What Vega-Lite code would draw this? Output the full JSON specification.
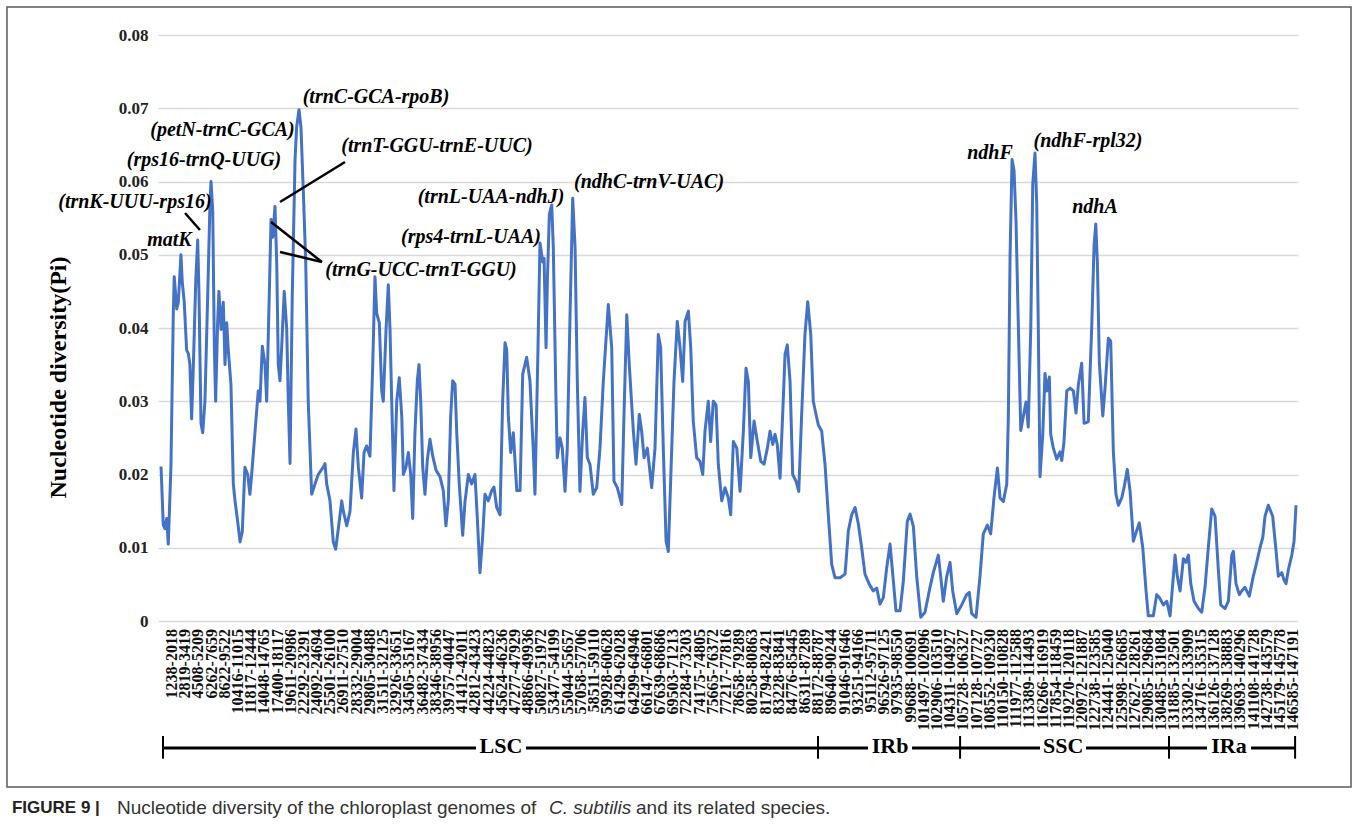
{
  "$schema": "https://vega.github.io/schema/vega-lite/v6.json",
  "autosize": {"type": "none"},
  "width": 1140,
  "height": 586,
  "padding": {"left": 158, "top": 35, "right": 60, "bottom": 210},
  "background": "white",
  "config": {"view": {"stroke": null}, "font": "Liberation Serif"},
  "datasets": {
    "pi": [
      {"w":-0.83,"pi":0.0211},{"w":-0.66,"pi":0.0131},{"w":-0.53,"pi":0.0126},{"w":-0.40,"pi":0.014},{"w":-0.28,"pi":0.0105},{"w":-0.08,"pi":0.021},{"w":0.10,"pi":0.042},{"w":0.17,"pi":0.047},{"w":0.36,"pi":0.0426},{"w":0.48,"pi":0.0435},{"w":0.68,"pi":0.050},{"w":0.78,"pi":0.0463},{"w":0.93,"pi":0.0435},{"w":1.11,"pi":0.037},{"w":1.24,"pi":0.0365},{"w":1.36,"pi":0.035},{"w":1.49,"pi":0.0276},{"w":1.61,"pi":0.0342},{"w":1.80,"pi":0.0463},{"w":1.95,"pi":0.052},{"w":2.05,"pi":0.0445},{"w":2.20,"pi":0.027},{"w":2.33,"pi":0.0257},{"w":2.50,"pi":0.030},{"w":2.71,"pi":0.0445},{"w":2.88,"pi":0.057},{"w":2.96,"pi":0.060},{"w":3.09,"pi":0.056},{"w":3.21,"pi":0.0375},{"w":3.31,"pi":0.030},{"w":3.46,"pi":0.0407},{"w":3.56,"pi":0.045},{"w":3.72,"pi":0.0398},{"w":3.89,"pi":0.0435},{"w":4.02,"pi":0.035},{"w":4.15,"pi":0.0407},{"w":4.27,"pi":0.037},{"w":4.47,"pi":0.0323},{"w":4.65,"pi":0.0187},{"w":4.78,"pi":0.0164},{"w":4.98,"pi":0.0136},{"w":5.16,"pi":0.0108},{"w":5.33,"pi":0.0122},{"w":5.53,"pi":0.021},{"w":5.74,"pi":0.020},{"w":5.91,"pi":0.0173},{"w":6.04,"pi":0.020},{"w":6.29,"pi":0.0257},{"w":6.54,"pi":0.0314},{"w":6.67,"pi":0.030},{"w":6.85,"pi":0.0375},{"w":7.05,"pi":0.035},{"w":7.18,"pi":0.030},{"w":7.35,"pi":0.0426},{"w":7.51,"pi":0.0548},{"w":7.64,"pi":0.0524},{"w":7.81,"pi":0.0566},{"w":7.94,"pi":0.049},{"w":8.06,"pi":0.035},{"w":8.19,"pi":0.0328},{"w":8.32,"pi":0.0375},{"w":8.51,"pi":0.045},{"w":8.70,"pi":0.0398},{"w":8.82,"pi":0.030},{"w":8.95,"pi":0.0215},{"w":9.12,"pi":0.0445},{"w":9.33,"pi":0.063},{"w":9.45,"pi":0.0674},{"w":9.63,"pi":0.0698},{"w":9.78,"pi":0.0674},{"w":9.96,"pi":0.0585},{"w":10.14,"pi":0.049},{"w":10.33,"pi":0.030},{"w":10.59,"pi":0.0173},{"w":10.84,"pi":0.0187},{"w":11.09,"pi":0.020},{"w":11.47,"pi":0.021},{"w":11.60,"pi":0.0215},{"w":11.73,"pi":0.0187},{"w":11.98,"pi":0.0164},{"w":12.23,"pi":0.0108},{"w":12.41,"pi":0.0098},{"w":12.61,"pi":0.0126},{"w":12.87,"pi":0.0164},{"w":12.99,"pi":0.015},{"w":13.25,"pi":0.013},{"w":13.50,"pi":0.015},{"w":13.75,"pi":0.023},{"w":13.95,"pi":0.0262},{"w":14.13,"pi":0.021},{"w":14.38,"pi":0.0168},{"w":14.56,"pi":0.023},{"w":14.76,"pi":0.0239},{"w":15.01,"pi":0.0225},{"w":15.22,"pi":0.035},{"w":15.39,"pi":0.047},{"w":15.52,"pi":0.042},{"w":15.72,"pi":0.0407},{"w":15.90,"pi":0.0314},{"w":16.02,"pi":0.030},{"w":16.23,"pi":0.0398},{"w":16.40,"pi":0.0459},{"w":16.53,"pi":0.0398},{"w":16.66,"pi":0.030},{"w":16.83,"pi":0.0178},{"w":17.04,"pi":0.030},{"w":17.23,"pi":0.0332},{"w":17.42,"pi":0.028},{"w":17.54,"pi":0.020},{"w":17.74,"pi":0.021},{"w":17.92,"pi":0.023},{"w":18.10,"pi":0.020},{"w":18.25,"pi":0.014},{"w":18.42,"pi":0.0257},{"w":18.60,"pi":0.0328},{"w":18.73,"pi":0.035},{"w":18.86,"pi":0.030},{"w":19.01,"pi":0.021},{"w":19.18,"pi":0.0173},{"w":19.36,"pi":0.022},{"w":19.56,"pi":0.0248},{"w":19.77,"pi":0.0225},{"w":20.02,"pi":0.0206},{"w":20.32,"pi":0.0197},{"w":20.57,"pi":0.0178},{"w":20.77,"pi":0.013},{"w":20.95,"pi":0.0164},{"w":21.13,"pi":0.028},{"w":21.28,"pi":0.0328},{"w":21.46,"pi":0.0323},{"w":21.59,"pi":0.0257},{"w":21.78,"pi":0.0187},{"w":22.04,"pi":0.0117},{"w":22.22,"pi":0.0164},{"w":22.47,"pi":0.020},{"w":22.72,"pi":0.0187},{"w":22.97,"pi":0.020},{"w":23.15,"pi":0.014},{"w":23.35,"pi":0.0066},{"w":23.56,"pi":0.0117},{"w":23.73,"pi":0.0173},{"w":23.98,"pi":0.0164},{"w":24.24,"pi":0.0178},{"w":24.41,"pi":0.0183},{"w":24.62,"pi":0.0155},{"w":24.87,"pi":0.0145},{"w":25.07,"pi":0.030},{"w":25.25,"pi":0.038},{"w":25.38,"pi":0.037},{"w":25.50,"pi":0.028},{"w":25.68,"pi":0.023},{"w":25.88,"pi":0.0257},{"w":26.14,"pi":0.0178},{"w":26.39,"pi":0.0178},{"w":26.59,"pi":0.0337},{"w":26.76,"pi":0.035},{"w":26.89,"pi":0.036},{"w":27.14,"pi":0.0328},{"w":27.39,"pi":0.0234},{"w":27.52,"pi":0.0173},{"w":27.75,"pi":0.0373},{"w":27.90,"pi":0.0516},{"w":28.11,"pi":0.049},{"w":28.21,"pi":0.0495},{"w":28.36,"pi":0.0373},{"w":28.46,"pi":0.0464},{"w":28.61,"pi":0.0555},{"w":28.79,"pi":0.0568},{"w":28.91,"pi":0.051},{"w":29.11,"pi":0.0305},{"w":29.21,"pi":0.0223},{"w":29.42,"pi":0.025},{"w":29.59,"pi":0.0236},{"w":29.80,"pi":0.0177},{"w":29.97,"pi":0.0236},{"w":30.18,"pi":0.0418},{"w":30.38,"pi":0.0577},{"w":30.56,"pi":0.051},{"w":30.73,"pi":0.0327},{"w":30.93,"pi":0.0177},{"w":31.14,"pi":0.0259},{"w":31.31,"pi":0.0305},{"w":31.49,"pi":0.0223},{"w":31.69,"pi":0.0214},{"w":31.94,"pi":0.0173},{"w":32.20,"pi":0.0182},{"w":32.45,"pi":0.0236},{"w":32.70,"pi":0.0327},{"w":33.08,"pi":0.0432},{"w":33.34,"pi":0.0373},{"w":33.51,"pi":0.0191},{"w":33.76,"pi":0.0182},{"w":34.10,"pi":0.0159},{"w":34.27,"pi":0.0282},{"w":34.48,"pi":0.0418},{"w":34.67,"pi":0.035},{"w":34.98,"pi":0.0259},{"w":35.18,"pi":0.0214},{"w":35.43,"pi":0.0282},{"w":35.61,"pi":0.0259},{"w":35.79,"pi":0.0223},{"w":36.04,"pi":0.0236},{"w":36.37,"pi":0.0182},{"w":36.62,"pi":0.0236},{"w":36.87,"pi":0.0391},{"w":37.05,"pi":0.0373},{"w":37.25,"pi":0.0236},{"w":37.46,"pi":0.0109},{"w":37.63,"pi":0.0095},{"w":37.89,"pi":0.0236},{"w":38.06,"pi":0.0327},{"w":38.31,"pi":0.0409},{"w":38.52,"pi":0.0373},{"w":38.72,"pi":0.0327},{"w":38.90,"pi":0.0409},{"w":39.15,"pi":0.0423},{"w":39.33,"pi":0.0373},{"w":39.52,"pi":0.0273},{"w":39.78,"pi":0.0223},{"w":40.03,"pi":0.0218},{"w":40.24,"pi":0.020},{"w":40.41,"pi":0.0259},{"w":40.66,"pi":0.030},{"w":40.84,"pi":0.0245},{"w":41.04,"pi":0.030},{"w":41.25,"pi":0.0295},{"w":41.42,"pi":0.0214},{"w":41.68,"pi":0.0164},{"w":41.93,"pi":0.0182},{"w":42.18,"pi":0.0168},{"w":42.36,"pi":0.0145},{"w":42.56,"pi":0.0245},{"w":42.82,"pi":0.0236},{"w":43.07,"pi":0.0177},{"w":43.32,"pi":0.0259},{"w":43.52,"pi":0.0345},{"w":43.70,"pi":0.0327},{"w":43.88,"pi":0.0223},{"w":44.13,"pi":0.0273},{"w":44.38,"pi":0.0245},{"w":44.64,"pi":0.0218},{"w":44.89,"pi":0.0214},{"w":45.14,"pi":0.0236},{"w":45.34,"pi":0.0259},{"w":45.55,"pi":0.0241},{"w":45.72,"pi":0.0255},{"w":45.89,"pi":0.0241},{"w":46.10,"pi":0.0195},{"w":46.30,"pi":0.0282},{"w":46.48,"pi":0.0364},{"w":46.65,"pi":0.0377},{"w":46.86,"pi":0.0327},{"w":47.06,"pi":0.020},{"w":47.31,"pi":0.0191},{"w":47.52,"pi":0.0177},{"w":47.74,"pi":0.0282},{"w":47.99,"pi":0.0391},{"w":48.20,"pi":0.0436},{"w":48.43,"pi":0.0391},{"w":48.62,"pi":0.030},{"w":48.83,"pi":0.0282},{"w":49.00,"pi":0.0268},{"w":49.26,"pi":0.0259},{"w":49.51,"pi":0.0214},{"w":49.76,"pi":0.0145},{"w":50.02,"pi":0.0077},{"w":50.27,"pi":0.0059},{"w":50.65,"pi":0.0059},{"w":51.03,"pi":0.0064},{"w":51.28,"pi":0.0123},{"w":51.53,"pi":0.0145},{"w":51.79,"pi":0.0155},{"w":52.04,"pi":0.0132},{"w":52.29,"pi":0.010},{"w":52.54,"pi":0.0064},{"w":52.87,"pi":0.005},{"w":53.17,"pi":0.0041},{"w":53.43,"pi":0.0045},{"w":53.68,"pi":0.0023},{"w":53.93,"pi":0.0032},{"w":54.19,"pi":0.0073},{"w":54.44,"pi":0.0105},{"w":54.69,"pi":0.0055},{"w":54.89,"pi":0.0014},{"w":55.20,"pi":0.0014},{"w":55.45,"pi":0.0055},{"w":55.75,"pi":0.0136},{"w":55.96,"pi":0.0146},{"w":56.21,"pi":0.0129},{"w":56.46,"pi":0.0061},{"w":56.77,"pi":0.0005},{"w":57.09,"pi":0.0012},{"w":57.47,"pi":0.0046},{"w":57.72,"pi":0.0066},{"w":58.10,"pi":0.009},{"w":58.28,"pi":0.0061},{"w":58.48,"pi":0.0027},{"w":58.74,"pi":0.0061},{"w":58.99,"pi":0.008},{"w":59.19,"pi":0.0041},{"w":59.50,"pi":0.001},{"w":59.87,"pi":0.0022},{"w":60.25,"pi":0.0036},{"w":60.45,"pi":0.0039},{"w":60.63,"pi":0.001},{"w":60.96,"pi":0.0005},{"w":61.26,"pi":0.0061},{"w":61.51,"pi":0.0119},{"w":61.82,"pi":0.0131},{"w":62.07,"pi":0.0119},{"w":62.32,"pi":0.0168},{"w":62.58,"pi":0.0209},{"w":62.78,"pi":0.0168},{"w":63.03,"pi":0.0163},{"w":63.29,"pi":0.0187},{"w":63.41,"pi":0.028},{"w":63.54,"pi":0.0498},{"w":63.69,"pi":0.063},{"w":63.84,"pi":0.0615},{"w":63.99,"pi":0.0547},{"w":64.17,"pi":0.0401},{"w":64.35,"pi":0.026},{"w":64.55,"pi":0.028},{"w":64.75,"pi":0.0299},{"w":64.92,"pi":0.0265},{"w":65.11,"pi":0.0401},{"w":65.26,"pi":0.0596},{"w":65.43,"pi":0.0639},{"w":65.56,"pi":0.0571},{"w":65.68,"pi":0.0401},{"w":65.81,"pi":0.0197},{"w":66.02,"pi":0.0255},{"w":66.19,"pi":0.0338},{"w":66.32,"pi":0.0314},{"w":66.52,"pi":0.0333},{"w":66.62,"pi":0.0255},{"w":66.82,"pi":0.0236},{"w":67.08,"pi":0.0221},{"w":67.33,"pi":0.0231},{"w":67.46,"pi":0.0219},{"w":67.63,"pi":0.0245},{"w":67.84,"pi":0.0314},{"w":68.09,"pi":0.0318},{"w":68.34,"pi":0.0314},{"w":68.54,"pi":0.0284},{"w":68.72,"pi":0.0323},{"w":68.97,"pi":0.0352},{"w":69.15,"pi":0.027},{"w":69.47,"pi":0.0272},{"w":69.73,"pi":0.0401},{"w":69.91,"pi":0.0513},{"w":70.04,"pi":0.0542},{"w":70.16,"pi":0.0489},{"w":70.31,"pi":0.0352},{"w":70.57,"pi":0.028},{"w":70.74,"pi":0.0318},{"w":70.99,"pi":0.0386},{"w":71.17,"pi":0.0382},{"w":71.37,"pi":0.0231},{"w":71.57,"pi":0.0173},{"w":71.75,"pi":0.0158},{"w":72.01,"pi":0.0168},{"w":72.18,"pi":0.0182},{"w":72.43,"pi":0.0207},{"w":72.64,"pi":0.0177},{"w":72.89,"pi":0.0109},{"w":73.15,"pi":0.0124},{"w":73.34,"pi":0.0134},{"w":73.60,"pi":0.010},{"w":73.85,"pi":0.0041},{"w":74.02,"pi":0.0007},{"w":74.40,"pi":0.0007},{"w":74.66,"pi":0.0036},{"w":74.86,"pi":0.0032},{"w":75.16,"pi":0.0022},{"w":75.42,"pi":0.0027},{"w":75.67,"pi":0.0007},{"w":75.92,"pi":0.0061},{"w":76.05,"pi":0.009},{"w":76.22,"pi":0.0061},{"w":76.43,"pi":0.0041},{"w":76.68,"pi":0.0085},{"w":76.88,"pi":0.008},{"w":77.06,"pi":0.009},{"w":77.24,"pi":0.0051},{"w":77.49,"pi":0.0027},{"w":77.82,"pi":0.0017},{"w":78.07,"pi":0.0012},{"w":78.32,"pi":0.0046},{"w":78.57,"pi":0.010},{"w":78.83,"pi":0.0153},{"w":79.08,"pi":0.0143},{"w":79.33,"pi":0.007},{"w":79.51,"pi":0.0022},{"w":79.84,"pi":0.0017},{"w":80.09,"pi":0.0027},{"w":80.35,"pi":0.009},{"w":80.47,"pi":0.0095},{"w":80.67,"pi":0.0051},{"w":80.92,"pi":0.0036},{"w":81.10,"pi":0.0041},{"w":81.35,"pi":0.0046},{"w":81.68,"pi":0.0034},{"w":81.98,"pi":0.0061},{"w":82.24,"pi":0.008},{"w":82.49,"pi":0.010},{"w":82.70,"pi":0.0114},{"w":82.87,"pi":0.0143},{"w":83.12,"pi":0.0158},{"w":83.45,"pi":0.0143},{"w":83.71,"pi":0.0095},{"w":83.88,"pi":0.0061},{"w":84.14,"pi":0.0066},{"w":84.31,"pi":0.0056},{"w":84.46,"pi":0.0051},{"w":84.64,"pi":0.007},{"w":84.90,"pi":0.009},{"w":85.07,"pi":0.0109},{"w":85.22,"pi":0.0158}
    ],
    "windows": [
      {"w":0,"label":"1238-2018"},{"w":1,"label":"2819-3419"},{"w":2,"label":"4508-5209"},{"w":3,"label":"6262-7659"},{"w":4,"label":"8622-9522"},{"w":5,"label":"10416-11015"},{"w":6,"label":"11817-12444"},{"w":7,"label":"14048-14765"},{"w":8,"label":"17400-18117"},{"w":9,"label":"19611-20986"},{"w":10,"label":"22292-23291"},{"w":11,"label":"24092-24694"},{"w":12,"label":"25501-26100"},{"w":13,"label":"26911-27510"},{"w":14,"label":"28332-29004"},{"w":15,"label":"29805-30488"},{"w":16,"label":"31511-32125"},{"w":17,"label":"32926-33651"},{"w":18,"label":"34505-35167"},{"w":19,"label":"36482-37434"},{"w":20,"label":"38346-38956"},{"w":21,"label":"39757-40447"},{"w":22,"label":"41412-42011"},{"w":23,"label":"42812-43423"},{"w":24,"label":"44224-44823"},{"w":25,"label":"45624-46236"},{"w":26,"label":"47277-47929"},{"w":27,"label":"48866-49936"},{"w":28,"label":"50827-51972"},{"w":29,"label":"53477-54199"},{"w":30,"label":"55044-55657"},{"w":31,"label":"57058-57706"},{"w":32,"label":"58511-59110"},{"w":33,"label":"59928-60628"},{"w":34,"label":"61429-62028"},{"w":35,"label":"64299-64946"},{"w":36,"label":"66147-66801"},{"w":37,"label":"67639-68686"},{"w":38,"label":"69503-71213"},{"w":39,"label":"72284-73203"},{"w":40,"label":"74175-74805"},{"w":41,"label":"75665-76372"},{"w":42,"label":"77217-77816"},{"w":43,"label":"78658-79289"},{"w":44,"label":"80258-80863"},{"w":45,"label":"81794-82421"},{"w":46,"label":"83228-83841"},{"w":47,"label":"84776-85445"},{"w":48,"label":"86311-87289"},{"w":49,"label":"88172-88787"},{"w":50,"label":"89640-90244"},{"w":51,"label":"91046-91646"},{"w":52,"label":"93251-94166"},{"w":53,"label":"95112-95711"},{"w":54,"label":"96526-97125"},{"w":55,"label":"97935-98550"},{"w":56,"label":"99688-100691"},{"w":57,"label":"101497-102096"},{"w":58,"label":"102906-103510"},{"w":59,"label":"104311-104927"},{"w":60,"label":"105728-106327"},{"w":61,"label":"107128-107727"},{"w":62,"label":"108552-109230"},{"w":63,"label":"110150-110828"},{"w":64,"label":"111977-112588"},{"w":65,"label":"113389-114493"},{"w":66,"label":"116266-116919"},{"w":67,"label":"117854-118459"},{"w":68,"label":"119270-120118"},{"w":69,"label":"120972-121887"},{"w":70,"label":"122738-123585"},{"w":71,"label":"124441-125040"},{"w":72,"label":"125998-126685"},{"w":73,"label":"127627-128261"},{"w":74,"label":"129085-129684"},{"w":75,"label":"130485-131084"},{"w":76,"label":"131885-132501"},{"w":77,"label":"133302-133909"},{"w":78,"label":"134716-135315"},{"w":79,"label":"136126-137128"},{"w":80,"label":"138269-138883"},{"w":81,"label":"139693-140296"},{"w":82,"label":"141108-141728"},{"w":83,"label":"142738-143579"},{"w":84,"label":"145179-145778"},{"w":85,"label":"146585-147191"}
    ],
    "regionLines": [
      {"w":-0.68,"w2":23.05},{"w":26.84,"w2":48.98},
      {"w":48.98,"w2":52.77},{"w":56.11,"w2":59.75},
      {"w":59.75,"w2":65.81},{"w":69.30,"w2":75.59},
      {"w":75.59,"w2":78.47},{"w":81.81,"w2":85.15}
    ],
    "regionTicks": [{"w":-0.68},{"w":48.98},{"w":59.75},{"w":75.59},{"w":85.15}],
    "regionNames": [
      {"w":24.94,"name":"LSC"},{"w":54.44,"name":"IRb"},{"w":67.56,"name":"SSC"},{"w":80.14,"name":"IRa"}
    ],
    "notes": [
      {"w":15.47,"pi":0.07154,"text":"(trnC-GCA-rpoB)"},
      {"w":3.83,"pi":0.06703,"text":"(petN-trnC-GCA)"},
      {"w":2.43,"pi":0.06294,"text":"(rps16-trnQ-UUG)"},
      {"w":-2.81,"pi":0.0572,"text":"(trnK-UUU-rps16)"},
      {"w":-0.19,"pi":0.05201,"text":"matK"},
      {"w":20.09,"pi":0.06485,"text":"(trnT-GGU-trnE-UUC)"},
      {"w":18.88,"pi":0.04792,"text":"(trnG-UCC-trnT-GGU)"},
      {"w":24.19,"pi":0.05788,"text":"(trnL-UAA-ndhJ)"},
      {"w":22.67,"pi":0.05242,"text":"(rps4-trnL-UAA)"},
      {"w":36.17,"pi":0.05993,"text":"(ndhC-trnV-UAC)"},
      {"w":62.02,"pi":0.06389,"text":"ndhF"},
      {"w":69.45,"pi":0.06553,"text":"(ndhF-rpl32)"},
      {"w":69.98,"pi":0.05652,"text":"ndhA"}
    ],
    "leaders": [
      {"w":0.99,"pi":0.0557,"w2":2.12,"pi2":0.05338},
      {"w":13.12,"pi":0.06266,"w2":8.19,"pi2":0.0572},
      {"w":11.37,"pi":0.04901,"w2":7.51,"pi2":0.05447},
      {"w":11.37,"pi":0.04901,"w2":8.19,"pi2":0.05038}
    ],
    "frame": [{"w":-12.51,"w2":89.39,"pi":0.08382,"pi2":-0.02266}],
    "capBold": [{"w":-12.13,"pi":-0.02553,"text":"FIGURE 9 |"}],
    "capPlain": [
      {"w":-4.17,"pi":-0.02553,"text":"Nucleotide diversity of the chloroplast genomes of"},
      {"w":35.18,"pi":-0.02553,"text":"and its related species."}
    ],
    "capItalic": [{"w":28.58,"pi":-0.02553,"text":"C. subtilis"}]
  },
  "layer": [
    {
      "data": {"name": "frame"},
      "mark": {"type": "rect", "fillOpacity": 0, "stroke": "#5a5a5a", "strokeWidth": 1.5},
      "encoding": {
        "x": {"field": "w", "type": "quantitative", "scale": {"domain": [-1.06, 85.37], "nice": false, "zero": false}, "axis": null},
        "x2": {"field": "w2"},
        "y": {"field": "pi", "type": "quantitative", "scale": {"domain": [0, 0.08], "nice": false, "zero": false},
          "axis": {"values": [0,0.01,0.02,0.03,0.04,0.05,0.06,0.07,0.08],
            "labelExpr": "datum.value == 0 ? '0' : format(datum.value, '.2f')",
            "grid": true, "gridColor": "#d9d9d9", "gridWidth": 1.3, "ticks": false, "domain": false,
            "labelFont": "Liberation Serif", "labelFontWeight": "bold", "labelFontSize": 17, "labelColor": "#222222", "labelPadding": 10,
            "title": "Nucleotide diversity(Pi)", "titleFont": "Liberation Serif", "titleFontSize": 24, "titleFontWeight": "bold", "titleColor": "#000000",
            "titleX": -100, "titleY": 342, "titleAngle": -90, "titleBaseline": "middle", "titleAlign": "center"}},
        "y2": {"field": "pi2"}
      }
    },
    {
      "data": {"name": "pi"},
      "mark": {"type": "line", "color": "#4472C4", "strokeWidth": 3, "strokeJoin": "round"},
      "encoding": {
        "x": {"field": "w", "type": "quantitative"},
        "y": {"field": "pi", "type": "quantitative"}
      }
    },
    {
      "data": {"name": "windows"},
      "mark": {"type": "text", "angle": 270, "align": "right", "baseline": "middle", "font": "Liberation Serif", "fontWeight": "bold", "fontSize": 16, "color": "#111111"},
      "encoding": {
        "x": {"field": "w", "type": "quantitative"},
        "y": {"datum": -0.0011, "type": "quantitative"},
        "text": {"field": "label"}
      }
    },
    {
      "data": {"name": "regionLines"},
      "mark": {"type": "rule", "strokeWidth": 3, "color": "#000000"},
      "encoding": {
        "x": {"field": "w", "type": "quantitative"},
        "x2": {"field": "w2"},
        "y": {"datum": -0.01734, "type": "quantitative"}
      }
    },
    {
      "data": {"name": "regionTicks"},
      "mark": {"type": "rule", "strokeWidth": 2, "color": "#000000"},
      "encoding": {
        "x": {"field": "w", "type": "quantitative"},
        "y": {"datum": -0.0157, "type": "quantitative"},
        "y2": {"datum": -0.0188}
      }
    },
    {
      "data": {"name": "regionNames"},
      "mark": {"type": "text", "align": "center", "baseline": "middle", "font": "Liberation Serif", "fontWeight": "bold", "fontSize": 22, "color": "#000000"},
      "encoding": {
        "x": {"field": "w", "type": "quantitative"},
        "y": {"datum": -0.0171, "type": "quantitative"},
        "text": {"field": "name"}
      }
    },
    {
      "data": {"name": "leaders"},
      "mark": {"type": "rule", "strokeWidth": 2.5, "color": "#000000"},
      "encoding": {
        "x": {"field": "w", "type": "quantitative"},
        "x2": {"field": "w2"},
        "y": {"field": "pi", "type": "quantitative"},
        "y2": {"field": "pi2"}
      }
    },
    {
      "data": {"name": "notes"},
      "mark": {"type": "text", "align": "center", "baseline": "middle", "font": "Liberation Serif", "fontWeight": "bold", "fontStyle": "italic", "fontSize": 20, "color": "#000000"},
      "encoding": {
        "x": {"field": "w", "type": "quantitative"},
        "y": {"field": "pi", "type": "quantitative"},
        "text": {"field": "text"}
      }
    },
    {
      "data": {"name": "capBold"},
      "mark": {"type": "text", "align": "left", "baseline": "middle", "font": "Liberation Sans", "fontWeight": "bold", "fontSize": 17, "color": "#222222"},
      "encoding": {
        "x": {"field": "w", "type": "quantitative"},
        "y": {"field": "pi", "type": "quantitative"},
        "text": {"field": "text"}
      }
    },
    {
      "data": {"name": "capPlain"},
      "mark": {"type": "text", "align": "left", "baseline": "middle", "font": "Liberation Sans", "fontSize": 19, "color": "#333333"},
      "encoding": {
        "x": {"field": "w", "type": "quantitative"},
        "y": {"field": "pi", "type": "quantitative"},
        "text": {"field": "text"}
      }
    },
    {
      "data": {"name": "capItalic"},
      "mark": {"type": "text", "align": "left", "baseline": "middle", "font": "Liberation Sans", "fontStyle": "italic", "fontSize": 19, "color": "#333333"},
      "encoding": {
        "x": {"field": "w", "type": "quantitative"},
        "y": {"field": "pi", "type": "quantitative"},
        "text": {"field": "text"}
      }
    }
  ]
}
